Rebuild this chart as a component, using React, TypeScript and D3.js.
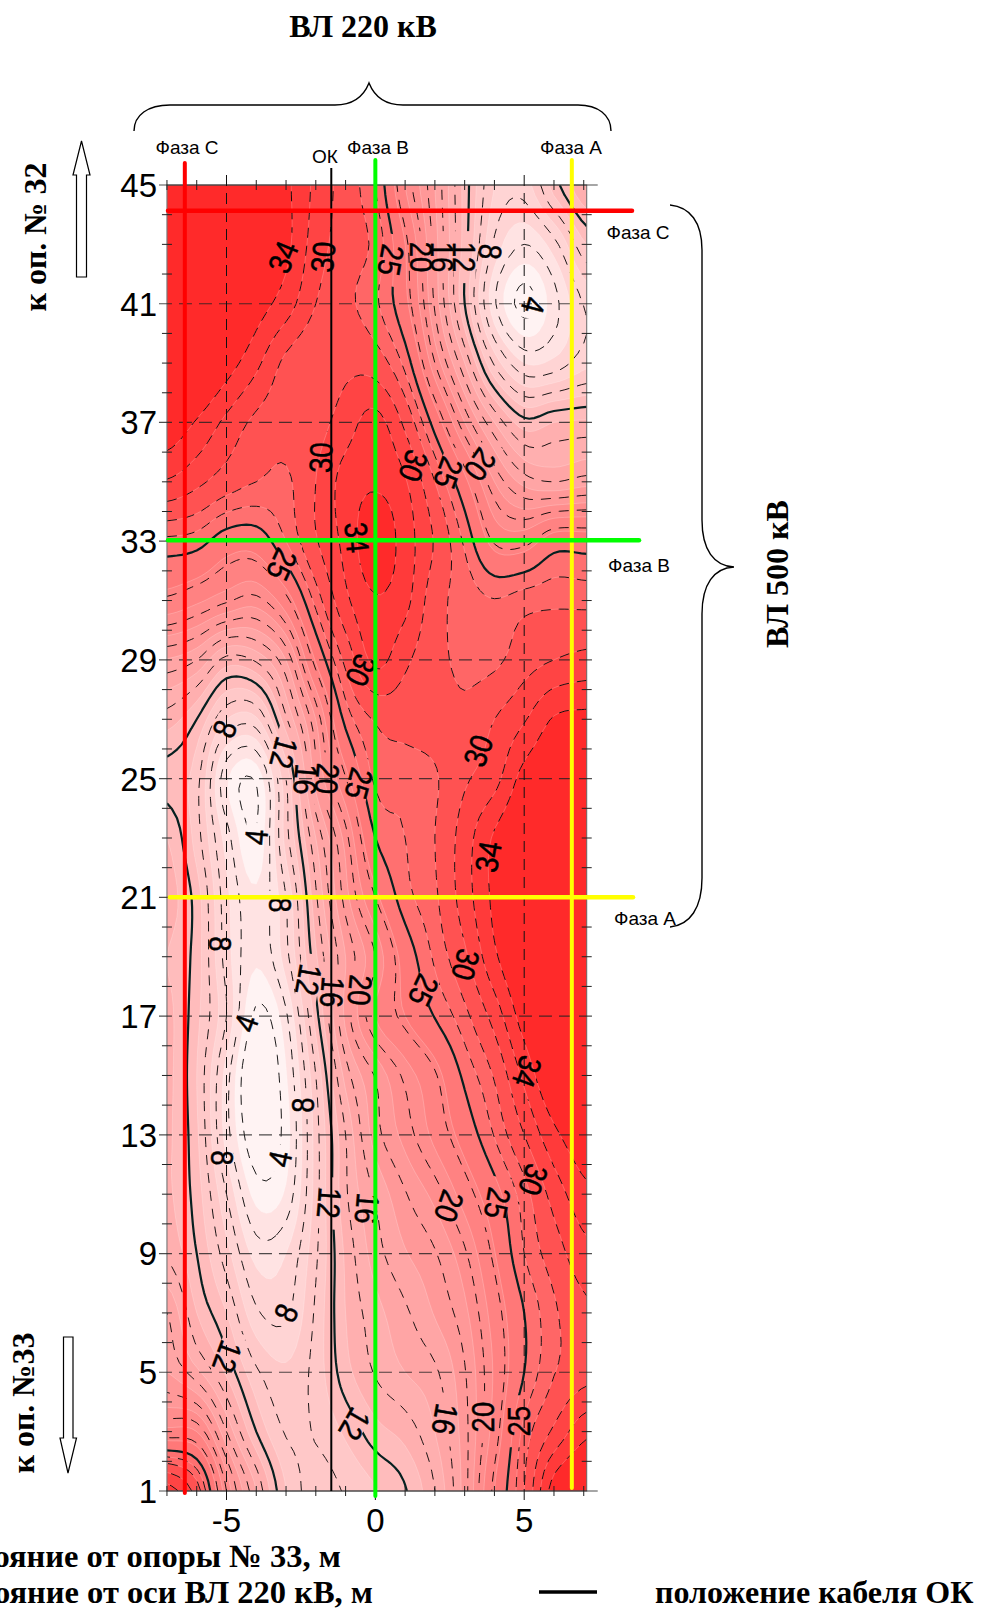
import React, { useMemo } from "react";
import * as d3 from "d3";

// Distances from the axis of the 220 kV line (m) — grid columns
const xCols = [-7, -6, -5, -4, -3, -2, -1, 0, 1, 2, 3, 4, 5, 6, 7.1];
// Distances from tower No. 33 (m) — grid rows, top to bottom
const yRows = [45, 43, 41, 39, 37, 35, 33, 31, 29, 27, 25, 23, 21, 19, 17, 15, 13, 11, 9, 7, 5, 3, 1];
// Field values, one array per row
const r45 = [37, 37, 37, 37, 34.5, 31.5, 29, 26.5, 21, 17, 12.6, 9, 8.5, 11.5, 14];
const r43 = [37, 37, 37, 36, 34.5, 31, 29, 27.5, 23, 17.5, 12.5, 7.8, 6, 7.6, 11];
const r41 = [37, 37, 37, 35, 33, 30, 28.5, 26.8, 23.5, 17.8, 12, 6.2, 3.6, 5.6, 8.2];
const r39 = [37, 37, 35, 32.5, 29.5, 28.5, 29.5, 29, 26, 20, 15, 9.8, 7, 7.3, 8.7];
const r37 = [35.5, 33.8, 31.5, 29.5, 28.7, 29.2, 31, 32.7, 29.5, 24.2, 19, 15, 12.4, 13, 13.2];
const r35 = [31.8, 30.5, 29, 28, 27.7, 30, 32.8, 33.7, 32.2, 28, 23.5, 19, 16.6, 16, 16.5];
const r33 = [26.1, 25.7, 24, 23.9, 26.5, 29.8, 32.6, 35.5, 33, 29.8, 26.2, 22.3, 22, 24, 24];
const r31 = [22.2, 21.3, 20.2, 19.6, 22, 27, 31.5, 33.8, 32.6, 28.8, 27.4, 26.6, 27.3, 27.6, 27.5];
const r29 = [16.9, 16, 13.6, 14.2, 17, 23.2, 28.5, 32.5, 30.4, 28.6, 27.6, 27.6, 29.1, 30, 30.6];
const r27 = [13.5, 12, 9, 8.8, 13.8, 19, 25.5, 28.2, 28.8, 28.8, 28.5, 30, 31.8, 34.2, 34.5];
const r25 = [11.6, 10.4, 5.2, 4.2, 10, 17.5, 22.4, 26.8, 27, 27.8, 29.7, 31.3, 34.8, 36, 35.5];
const r23 = [13, 10.5, 6.5, 4.1, 9.5, 15, 19.5, 25, 26.5, 28, 31, 34.3, 36.5, 37, 36.5];
const r21 = [13.5, 11.5, 7.3, 5.2, 8, 13.8, 18.5, 22.5, 25.9, 27.7, 31, 34.5, 37, 37, 37];
const r19 = [13, 11.5, 7.5, 5.2, 7.6, 12.8, 17, 20, 23.8, 26.8, 29.6, 33.6, 36.5, 37, 37];
const r17 = [13.3, 11.3, 8, 3.7, 5.8, 11.5, 17.3, 21, 23, 25.1, 27.5, 30.8, 35, 37, 37];
const r15 = [13.3, 11, 6.5, 2.4, 4.9, 10, 15.4, 18.1, 20.3, 22.3, 25.4, 28.2, 32.5, 36, 36];
const r13 = [13.2, 11.2, 6.5, 3, 4.5, 9.5, 14, 17.5, 19.4, 21.4, 23.8, 26.6, 30, 33.5, 35.5];
const r11 = [13.2, 11.5, 8, 4.6, 5.2, 9.5, 13.8, 16.1, 17.9, 19.4, 21.7, 24.3, 27.3, 30.8, 33.5];
const r9 = [13.8, 12, 9.4, 6.6, 7, 9.8, 13.2, 15.5, 16.9, 17.9, 19.8, 22.9, 26.5, 29, 31.4];
const r7 = [16, 13, 11, 8.2, 7.8, 10.2, 13, 14.6, 15.8, 17.1, 18.7, 21.7, 25, 27.7, 29.6];
const r5 = [17, 15.3, 12.8, 10.2, 9.2, 10.4, 12.6, 14.1, 15, 15.8, 17.9, 21.2, 25, 27.9, 29.3];
const r3 = [21.5, 21, 16, 12, 9.9, 10.1, 11.2, 12.6, 13.4, 15, 17.6, 21.7, 27, 30.4, 33.5];
const r1 = [33, 29, 20, 15, 11, 9.6, 10.1, 10.9, 11.9, 14, 17.5, 23, 28, 35, 37];
const gridRows = [r45, r43, r41, r39, r37, r35, r33, r31, r29, r27, r25, r23, r21, r19, r17, r15, r13, r11, r9, r7, r5, r3, r1];

// Contour line levels and band thresholds
const lineLevels = [4, 6, 8, 10, 12, 14, 16, 18, 20, 22.5, 25, 26.5, 28, 30, 32, 34];
const solidLevels = [12, 25];
const bandLevels = [5, 7, 9, 11, 13, 15, 17, 19, 21, 23, 25, 26.5, 28, 30, 32, 34];
const bandColors = ["#fff3f3", "#ffe3e3", "#ffd4d4", "#ffc8c8", "#ffbcbc", "#ffafaf", "#ffa5a5", "#ff9898", "#ff8d8d", "#ff8282", "#ff7878", "#ff7070", "#ff6666", "#ff5252", "#ff4444", "#ff3a3a", "#ff2a2a"];

// Contour labels
const labelText = ["34", "30", "25", "20", "16", "12", "8", "4", "30", "30", "25", "20", "34", "25", "30", "30", "8", "12", "16", "20", "25", "4", "34", "8", "8", "12", "16", "20", "25", "30", "4", "34", "8", "8", "4", "30", "25", "20", "12", "16", "8", "12", "12", "16", "20", "25"];
const labelX = [-3.1, -1.76, 0.52, 1.55, 2.24, 3.0, 3.86, 5.31, -1.83, 1.28, 2.45, 3.52, -0.62, -3.14, -0.48, 3.45, -5.07, -3.07, -2.34, -1.62, -0.55, -4.0, 3.79, -3.21, -5.21, -2.24, -1.45, -0.52, 1.62, 3.03, -4.34, 5.1, -2.45, -5.14, -3.21, 5.31, 4.1, 2.48, -1.55, -0.28, -3.0, -4.97, -0.69, 2.34, 3.62, 4.83];
const labelY = [42.57, 42.57, 42.47, 42.57, 42.57, 42.57, 42.75, 40.95, 35.82, 35.54, 35.3, 35.58, 33.12, 32.21, 28.65, 25.94, 26.67, 25.87, 24.97, 25.0, 24.83, 23.03, 22.37, 20.75, 19.43, 18.22, 17.8, 17.87, 17.87, 18.73, 16.76, 15.13, 14.0, 12.22, 12.19, 11.49, 10.7, 10.59, 10.7, 10.52, 7.0, 5.53, 3.25, 3.42, 3.49, 3.35];
const labelAngle = [-68, -85, 100, 90, 90, 90, 95, 105, -88, 110, 110, 125, 85, 115, 115, -70, -70, 105, 95, 95, 105, -85, -80, 90, 90, 100, 95, 95, 115, 105, -70, 110, -90, 90, -78, 110, 100, 110, 95, 95, -65, 110, 120, 100, -90, -90];

// Axis ticks
const yMajor = [45, 41, 37, 33, 29, 25, 21, 17, 13, 9, 5, 1];
const xMajor = [-5, 0, 5];
const xMinor = d3.range(-7, 8);
const yMinor = d3.range(1, 46);

// Conductors and cable positions
const phaseVertical = [
  { name: "Фаза C", x: -6.4, color: "#ff0000" },
  { name: "Фаза B", x: 0, color: "#00ff00" },
  { name: "Фаза A", x: 6.6, color: "#ffff00" },
];
const phaseHorizontal = [
  { name: "Фаза C", y: 44.13, color: "#ff0000", end: 632, start: 168 },
  { name: "Фаза B", y: 33.03, color: "#00ff00", end: 639, start: 168 },
  { name: "Фаза A", y: 21, color: "#ffff00", end: 633, start: 170 },
];
const cableX = -1.48;

const xScale = d3.scaleLinear().domain([-5, 5]).range([226.5, 524.2]);
const yScale = d3.scaleLinear().domain([1, 45]).range([1491, 185]);

const SANS = "'Liberation Sans', Arial, sans-serif";
const SERIF = "'Liberation Serif', 'Times New Roman', serif";
const UP = 6;

function cubic(a: number, b: number, c: number, d: number, t: number) {
  return 0.5 * (2 * b + (c - a) * t + (2 * a - 5 * b + 4 * c - d) * t * t + (3 * b - a - 3 * c + d) * t * t * t);
}

function upsample(rows: number[][], f: number) {
  const nr = rows.length, nc = rows[0].length;
  const W = (nc - 1) * f + 1, H = (nr - 1) * f + 1;
  const at = (r: number, c: number) => rows[Math.max(0, Math.min(nr - 1, r))][Math.max(0, Math.min(nc - 1, c))];
  const out = new Array(W * H);
  for (let j = 0; j < H; j++) {
    const r = Math.min(Math.floor(j / f), nr - 2);
    const v = j / f - r;
    for (let i = 0; i < W; i++) {
      const c = Math.min(Math.floor(i / f), nc - 2);
      const u = i / f - c;
      const col = [-1, 0, 1, 2].map((dr) =>
        cubic(at(r + dr, c - 1), at(r + dr, c), at(r + dr, c + 1), at(r + dr, c + 2), u)
      );
      out[j * W + i] = cubic(col[0], col[1], col[2], col[3], v);
    }
  }
  return { values: out, W, H };
}

export default function App() {
  const { bands, lines } = useMemo(() => {
    const { values, W, H } = upsample(gridRows, UP);
    const xIdx = d3.scaleLinear().domain(xCols.map((_, i) => i * UP)).range(xCols.map((v) => xScale(v))).clamp(true);
    const yIdx = d3.scaleLinear().domain(yRows.map((_, i) => i * UP)).range(yRows.map((v) => yScale(v))).clamp(true);
    const toPx = (p: number[]): [number, number] => [xIdx(p[0] - 0.5), yIdx(p[1] - 0.5)];
    const gen = d3.contours().size([W, H]).smooth(true);
    const path = d3.line();
    const fillPath = (mp: any) =>
      mp.coordinates
        .map((poly: number[][][]) => poly.map((ring) => path(ring.map(toPx)) + "Z").join(""))
        .join("");
    const bands = bandLevels.map((t, i) => ({
      level: t,
      color: bandColors[i + 1],
      d: fillPath(gen.contour(values, t)),
    }));
    const onEdge = (p: number[]) => p[0] <= 0 || p[0] >= W || p[1] <= 0 || p[1] >= H;
    const lines = lineLevels.map((t) => {
      const mp: any = gen.contour(values, t);
      const parts: string[] = [];
      mp.coordinates.forEach((poly: number[][][]) =>
        poly.forEach((ring) => {
          const start = ring.findIndex(onEdge);
          if (start < 0) {
            parts.push(path(ring.map(toPx)) + "Z");
            return;
          }
          let cur: [number, number][] = [];
          for (let k = 0; k <= ring.length; k++) {
            const p = ring[(start + k) % ring.length];
            if (onEdge(p)) {
              if (cur.length > 1) parts.push(path(cur) as string);
              cur = [];
            } else cur.push(toPx(p));
          }
          if (cur.length > 1) parts.push(path(cur) as string);
        })
      );
      return { level: t, d: parts.join("") };
    });
    return { bands, lines };
  }, []);

  const left = xScale(-7), right = xScale(7.1), top = yScale(45), bottom = yScale(1);
  const brace = "M134 131 C134 115 148 105 170 105 L335 105 C352 105 363 98 369 83 C375 98 386 105 403 105 L578 105 C598 105 611 115 611 131";
  const braceR = "M670 205 C690 207 702 222 702 250 L702 520 C702 550 714 566 734 567 C714 568 702 584 702 614 L702 878 C702 908 690 925 670 927";

  return (
    <svg width={989} height={1612} viewBox="0 0 989 1612" style={{ position: "absolute", left: 0, top: 0, display: "block", background: "#fff" }}>
      <defs>
        <clipPath id="plot"><rect x={left} y={top} width={right - left} height={bottom - top} /></clipPath>
        <mask id="labelGaps" maskUnits="userSpaceOnUse" x={0} y={0} width={989} height={1612}>
          <rect x={0} y={0} width={989} height={1612} fill="#fff" />
          {labelText.map((t, i) => (
            <rect key={i} x={-(t.length * 12 + 2)} y={-11} width={(t.length * 12 + 2) * 2} height={22} fill="#000"
              transform={`translate(${xScale(labelX[i])},${yScale(labelY[i])}) rotate(${labelAngle[i]})`} />
          ))}
        </mask>
      </defs>

      <g clipPath="url(#plot)">
        <rect x={left} y={top} width={right - left} height={bottom - top} fill={bandColors[0]} />
        {bands.map((b) => (
          <path key={b.level} d={b.d} fill={b.color} fillRule="evenodd" stroke="#ffffff" strokeOpacity={0.3} strokeWidth={0.7} />
        ))}
        <g mask="url(#labelGaps)" fill="none">
          {lines.map((l) =>
            solidLevels.includes(l.level) ? (
              <path key={l.level} d={l.d} stroke="#062020" strokeWidth={2.2} />
            ) : (
              <path key={l.level} d={l.d} stroke="#000" strokeWidth={0.9} strokeDasharray="10 8" />
            )
          )}
        </g>
      </g>

      {/* frame */}
      <rect x={left} y={top} width={right - left} height={bottom - top} fill="none" stroke="#666" strokeWidth={1} />

      {/* grid and ticks */}
      {yMajor.map((v) => (
        <line key={v} x1={left - 8} x2={right + 11} y1={yScale(v)} y2={yScale(v)} stroke="#222" strokeOpacity={0.8} strokeWidth={1.2} strokeDasharray={v === 1 || v === 45 ? undefined : "13 7"} />
      ))}
      {xMajor.map((v) => (
        <line key={v} x1={xScale(v)} x2={xScale(v)} y1={top - 10} y2={bottom + 10} stroke="#111" strokeWidth={1} strokeDasharray="11 7" />
      ))}
      {yMinor.filter((v) => !yMajor.includes(v)).map((v) => (
        <g key={v} stroke="#222" strokeWidth={1}>
          <line x1={left - 5} x2={left + 5} y1={yScale(v)} y2={yScale(v)} />
          <line x1={right - 5} x2={right + 5} y1={yScale(v)} y2={yScale(v)} />
        </g>
      ))}
      {xMinor.filter((v) => !xMajor.includes(v)).map((v) => (
        <g key={v} stroke="#222" strokeWidth={1}>
          <line x1={xScale(v)} x2={xScale(v)} y1={top - 5} y2={top + 5} />
          <line x1={xScale(v)} x2={xScale(v)} y1={bottom - 5} y2={bottom + 5} />
        </g>
      ))}

      {/* contour labels */}
      {labelText.map((t, i) => (
        <text key={i} transform={`translate(${xScale(labelX[i])},${yScale(labelY[i])}) rotate(${labelAngle[i]}) scale(0.86,1)`}
          textAnchor="middle" dominantBaseline="central" fontFamily={SANS} fontSize={32} fill="#000" stroke="#000" strokeWidth={0.5}>{t}</text>
      ))}

      {/* cable and phases */}
      <line x1={xScale(cableX)} x2={xScale(cableX)} y1={168} y2={bottom} stroke="#000" strokeWidth={2} />
      {phaseVertical.map((p, i) => (
        <line key={p.name} x1={xScale(p.x)} x2={xScale(p.x)} y1={i === 0 ? 163 : 160} y2={i === 0 ? 1493 : i === 1 ? 1496 : 1488} stroke={p.color} strokeWidth={4} strokeLinecap="round" />
      ))}
      {phaseHorizontal.map((p) => (
        <line key={p.name} x1={p.start} x2={p.end} y1={yScale(p.y)} y2={yScale(p.y)} stroke={p.color} strokeWidth={4.5} strokeLinecap="round" />
      ))}

      {/* axis labels */}
      {yMajor.map((v) => (
        <text key={v} x={157} y={yScale(v)} dy="0.36em" textAnchor="end" fontFamily={SANS} fontSize={33} fill="#000">{v}</text>
      ))}
      {xMajor.map((v) => (
        <text key={v} x={xScale(v)} y={1532} textAnchor="middle" fontFamily={SANS} fontSize={33} fill="#000">{v}</text>
      ))}

      {/* phase captions */}
      <g fontFamily={SANS} fontSize={19} fill="#000" textAnchor="middle">
        <text x={187} y={154}>Фаза C</text>
        <text x={378} y={154}>Фаза B</text>
        <text x={571} y={154}>Фаза A</text>
        <text x={325} y={163}>ОК</text>
        <text x={638} y={239}>Фаза C</text>
        <text x={639} y={572}>Фаза B</text>
        <text x={645} y={925}>Фаза A</text>
      </g>

      {/* braces */}
      <path d={brace} fill="none" stroke="#000" strokeWidth={1.4} />
      <path d={braceR} fill="none" stroke="#000" strokeWidth={1.4} />

      {/* arrows */}
      <path d="M81.5 141 L90 175 L86.5 175 L86.5 277 L76.5 277 L76.5 175 L73 175 Z" fill="#fff" stroke="#000" strokeWidth={1.2} />
      <path d="M68 1473 L60 1438 L63.5 1438 L63.5 1337 L73 1337 L73 1438 L76.5 1438 Z" fill="#fff" stroke="#000" strokeWidth={1.2} />

      {/* titles */}
      <g fontFamily={SERIF} fontWeight="bold" fill="#000">
        <text x={363} y={37} textAnchor="middle" fontSize={32}>ВЛ 220 кВ</text>
        <text transform="translate(46,237) rotate(-90)" textAnchor="middle" fontSize={32}>к оп. № 32</text>
        <text transform="translate(34,1403) rotate(-90)" textAnchor="middle" fontSize={32}>к оп. №33</text>
        <text transform="translate(788,574) rotate(-90)" textAnchor="middle" fontSize={32}>ВЛ 500 кВ</text>
        <text x={341} y={1567} textAnchor="end" fontSize={32.5}>Расстояние от опоры № 33, м</text>
        <text x={373} y={1603} textAnchor="end" fontSize={32.5}>Расстояние от оси ВЛ 220 кВ, м</text>
        <text x={655} y={1603} fontSize={32}>положение кабеля ОК</text>
      </g>
      <line x1={539} x2={597} y1={1592} y2={1592} stroke="#000" strokeWidth={3.5} />
    </svg>
  );
}
